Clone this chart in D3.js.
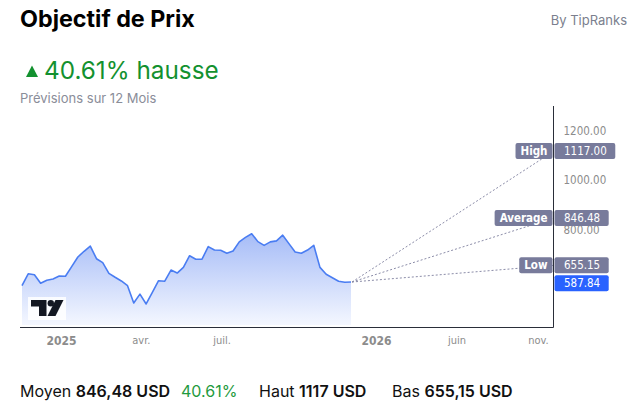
<!DOCTYPE html>
<html>
<head>
<meta charset="utf-8">
<script src="https://cdn.jsdelivr.net/npm/d3@7"></script>
<style>
  html, body { margin: 0; padding: 0; background: #fff; }
  svg { display: block; }
  .num { font-family: "DejaVu Sans Condensed", "DejaVu Sans", sans-serif; }
</style>
</head>
<body>
<svg id="chart" width="642" height="409"></svg>
<script>
// weekly closes
const startDate = new Date(2024, 10, 18);
const closes = [
  573, 621, 617, 583, 595, 600, 612, 611, 650, 689,
  712, 733, 682, 666, 623, 607, 592, 573, 503, 539,
  499, 546, 593, 591, 636, 624, 647, 694, 680, 680,
  731, 717, 716, 704, 713, 750, 768, 783, 751, 736,
  750, 754, 777, 743, 709, 704, 717, 736, 647, 619,
  605, 591, 587, 587.84,
];
const targetNames = ['High', 'Average', 'Low'];
const targetValues = [1117.00, 846.48, 655.15];
const targetDate = new Date(2026, 11, 1);
const yTicks = [800, 1000, 1200];
const xTickDates = [
  new Date(2025, 0, 1), new Date(2025, 3, 1), new Date(2025, 6, 1),
  new Date(2026, 0, 1), new Date(2026, 5, 1), new Date(2026, 10, 1),
];
const xTickLabels = ['2025', 'avr.', 'juil.', '2026', 'juin', 'nov.'];
const summaryParts = [
  { label: 'Moyen', value: '846,48 USD', color: '#111', at: 20 },
  { label: '', value: '40.61%', color: '#1f9a3e', at: 181 },
  { label: 'Haut', value: '1117 USD', color: '#111', at: 259 },
  { label: 'Bas', value: '655,15 USD', color: '#111', at: 392 },
];

const data = closes.map((v, i) => ({ date: d3.timeDay.offset(startDate, i * 7), value: v }));
const last = data[data.length - 1];

const svg = d3.select('#chart');
const paneLeft = 20;
const paneRight = 553.5;
const paneTop = 106;
const paneBottom = 327.5;

// history is spaced wider than the forecast part, like the source widget
const x = d3.scaleTime()
  .domain([startDate, last.date, new Date(2026, 0, 1), targetDate])
  .range([22, 351, 376, 554]);
const y = d3.scaleLinear()
  .domain([400, 1300])
  .range([328.5, 105.75]);

// header
svg.append('text')
  .attr('x', 20).attr('y', 27)
  .attr('font-family', 'Inter, sans-serif')
  .attr('font-size', 23.3).attr('font-weight', 700)
  .attr('fill', '#000')
  .text('Objectif de Prix');
svg.append('text')
  .attr('x', 627).attr('y', 25)
  .attr('text-anchor', 'end')
  .attr('font-family', 'Inter, sans-serif')
  .attr('font-size', 13)
  .attr('fill', '#7b7f8e')
  .text('By TipRanks');
svg.append('path')
  .attr('d', 'M26,77 L32,65.5 L38,77 Z')
  .attr('fill', '#13912f');
svg.append('text')
  .attr('x', 44).attr('y', 79)
  .attr('font-family', 'Inter, sans-serif')
  .attr('font-size', 24.3)
  .attr('fill', '#13912f')
  .text('40.61% hausse');
svg.append('text')
  .attr('x', 20).attr('y', 103)
  .attr('font-family', 'Inter, sans-serif')
  .attr('font-size', 13)
  .attr('fill', '#8a8d99')
  .text('Prévisions sur 12 Mois');

// area gradient
const defs = svg.append('defs');
const grad = defs.append('linearGradient')
  .attr('id', 'areaFill')
  .attr('gradientUnits', 'userSpaceOnUse')
  .attr('x1', 0).attr('x2', 0)
  .attr('y1', y(d3.max(closes))).attr('y2', 325);
grad.append('stop').attr('offset', 0).attr('stop-color', '#a6bcf7');
grad.append('stop').attr('offset', 1).attr('stop-color', '#f4f7ff');

const area = d3.area()
  .x(d => x(d.date))
  .y0(325)
  .y1(d => y(d.value));
const line = d3.line()
  .x(d => x(d.date))
  .y(d => y(d.value));

svg.append('path')
  .datum(data)
  .attr('d', area)
  .attr('fill', 'url(#areaFill)');
svg.append('path')
  .datum(data)
  .attr('d', line)
  .attr('fill', 'none')
  .attr('stroke', '#4a7df2')
  .attr('stroke-width', 1.6)
  .attr('stroke-linejoin', 'round');

// logo
const logo = svg.append('g');
logo.append('rect')
  .attr('x', 28).attr('y', 297).attr('width', 38).attr('height', 23)
  .attr('fill', '#fff').attr('opacity', 0.85);
logo.append('path')
  .attr('d', 'M31,300 H46.5 V316 H39 V306.5 H31 Z')
  .attr('fill', '#131722');
logo.append('circle')
  .attr('cx', 50.8).attr('cy', 303.2).attr('r', 3.2)
  .attr('fill', '#131722');
logo.append('path')
  .attr('d', 'M55.5,300 H63.5 L55.5,316 H47.5 Z')
  .attr('fill', '#131722');

// forecast lines
svg.append('g')
  .selectAll('line')
  .data(targetValues)
  .join('line')
  .attr('x1', x(last.date) + 1).attr('y1', y(last.value))
  .attr('x2', x(targetDate)).attr('y2', d => y(d))
  .attr('stroke', '#8b8ca8')
  .attr('stroke-width', 1)
  .attr('stroke-dasharray', '2,2');

// pane borders
svg.append('line')
  .attr('x1', paneLeft).attr('x2', paneRight)
  .attr('y1', paneBottom).attr('y2', paneBottom)
  .attr('stroke', '#2a2e39').attr('stroke-width', 1);
svg.append('line')
  .attr('x1', paneRight).attr('x2', paneRight)
  .attr('y1', paneTop).attr('y2', paneBottom)
  .attr('stroke', '#2a2e39').attr('stroke-width', 1);

// price axis
const yAxis = d3.axisRight(y)
  .tickValues(yTicks)
  .tickSize(0)
  .tickPadding(10)
  .tickFormat(d3.format('.2f'));
svg.append('g')
  .attr('transform', `translate(${paneRight},0)`)
  .call(yAxis)
  .call(g => g.select('.domain').remove())
  .call(g => g.selectAll('text')
    .attr('class', 'num')
    .attr('font-size', 11.5)
    .attr('fill', '#8c8c8c'));

// time axis
const xAxis = d3.axisBottom(x)
  .tickValues(xTickDates)
  .tickSize(0)
  .tickPadding(9)
  .tickFormat((d, i) => xTickLabels[i]);
svg.append('g')
  .attr('transform', `translate(0,${paneBottom})`)
  .call(xAxis)
  .call(g => g.select('.domain').remove())
  .call(g => g.selectAll('text')
    .attr('class', 'num')
    .attr('font-size', (d, i) => /^\d{4}$/.test(xTickLabels[i]) ? 12 : 11)
    .attr('font-weight', (d, i) => /^\d{4}$/.test(xTickLabels[i]) ? 700 : 400)
    .attr('fill', '#8c8c8c'));

// label boxes on the price axis
function valueBox(text, fill, cy) {
  const g = svg.append('g');
  const t = g.append('text')
    .attr('class', 'num')
    .attr('x', paneRight + 10.5).attr('y', cy + 4)
    .attr('font-size', 11.5)
    .attr('fill', '#fff')
    .text(text);
  const w = t.node().getComputedTextLength();
  g.insert('rect', 'text')
    .attr('x', paneRight + 1).attr('y', cy - 8)
    .attr('width', w + 18).attr('height', 16)
    .attr('rx', 2)
    .attr('fill', fill);
}

function nameBox(text, cy) {
  const g = svg.append('g');
  const t = g.append('text')
    .attr('class', 'num')
    .attr('x', paneRight - 6).attr('y', cy + 4)
    .attr('text-anchor', 'end')
    .attr('font-size', 11.5)
    .attr('font-weight', 700)
    .attr('fill', '#fff')
    .text(text);
  const w = t.node().getComputedTextLength();
  g.insert('rect', 'text')
    .attr('x', paneRight - 1 - w - 10).attr('y', cy - 8)
    .attr('width', w + 10).attr('height', 16)
    .attr('rx', 2)
    .attr('fill', '#787b9b');
}

let lowest = 0;
targetValues.forEach((v, i) => {
  const cy = y(v);
  nameBox(targetNames[i], cy);
  valueBox(d3.format('.2f')(v), '#787b9b', cy);
  lowest = Math.max(lowest, cy + 8);
});
valueBox(d3.format('.2f')(last.value), '#2962ff', Math.max(y(last.value), lowest + 10));

// summary row
summaryParts.forEach(p => {
  const t = svg.append('text')
    .attr('x', p.at).attr('y', 397)
    .attr('font-family', 'Inter, sans-serif')
    .attr('font-size', 16)
    .attr('fill', p.color);
  if (p.label) {
    t.append('tspan').text(p.label + ' ');
    t.append('tspan').attr('font-weight', 600).text(p.value);
  } else {
    t.append('tspan').text(p.value);
  }
});
</script>
</body>
</html>
